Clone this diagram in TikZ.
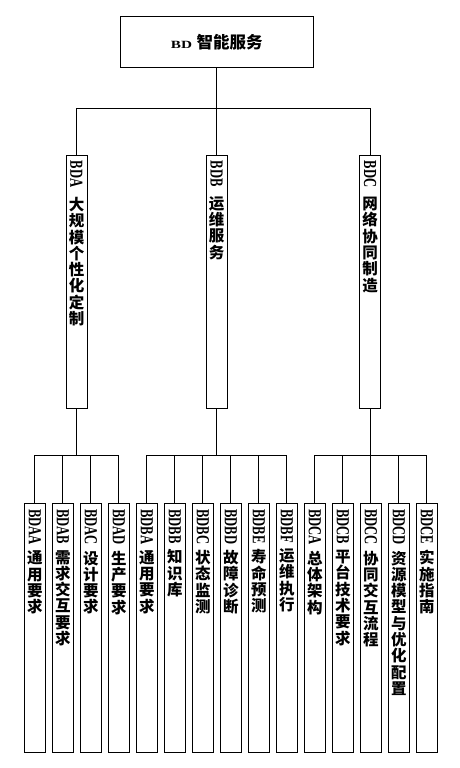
\documentclass[tikz,border=0pt]{standalone}
\usepackage{fontspec}
\setmainfont{Liberation Serif}
\newfontfamily\cjkfont{Noto Sans CJK SC}
\usepackage{graphicx}
\newcommand\latinrot[1]{\rotatebox{-90}{\scalebox{0.72}[1.05]{\fontsize{17.5}{17.5}\selectfont\bfseries #1}}}
\def\cjkloop#1{\ifx\relax#1\else\hbox to 16pt{\hss#1\hss}\expandafter\cjkloop\fi}
\newcommand\cjkstack[1]{\vbox{\cjkfont\bfseries\fontsize{15.5}{16.3}\selectfont\baselineskip=16.3pt\lineskiplimit=-20pt\cjkloop#1\relax}}
\begin{document}
\begin{tikzpicture}[x=1pt,y=-1pt,line width=1pt,
  box/.style={draw,inner sep=0pt,minimum width=21pt},
  lab/.style={inner sep=0pt,anchor=north}]
\useasboundingbox (0,0) rectangle (460,768);
% root
\node[draw,inner sep=0pt,minimum width=193pt,minimum height=51pt] (root) at (216.7,41.7)
  {\scalebox{1.45}[1.05]{\fontsize{10.5}{10.5}\selectfont\bfseries BD}\hspace{4.5pt}{\cjkfont\bfseries\fontsize{16.5}{16.5}\selectfont 智能服务}};
% level 1
\foreach \nm/\xx/\lt/\ch in {A/76.5/BDA/大规模个性化定制,B/216.7/BDB/运维服务,C/370/BDC/网络协同制造}{
  \node[box,minimum height=253.4pt] (\nm) at (\xx,282) {};
  \node[lab] (\nm-l) at ([yshift=-5.3pt]\nm.north) {\latinrot{\lt}};
  \node[lab] (\nm-c) at ([yshift=-9pt]\nm-l.south) {\expandafter\cjkstack\expandafter{\ch}};
}
\coordinate (bus) at (216.7,108.3);
\draw (root.south) -- (bus);
\draw (A.north) |- (bus) -| (C.north);
\draw (bus) -- (B.north);
% level 2
\foreach \nm/\idx/\lt/\ch in {AA/0/BDAA/通用要求,AB/1/BDAB/需求交互要求,AC/2/BDAC/设计要求,AD/3/BDAD/生产要求,
  BA/4/BDBA/通用要求,BB/5/BDBB/知识库,BC/6/BDBC/状态监测,BD/7/BDBD/故障诊断,BE/8/BDBE/寿命预测,BF/9/BDBF/运维执行,
  CA/10/BDCA/总体架构,CB/11/BDCB/平台技术要求,CC/12/BDCC/协同交互流程,CD/13/BDCD/资源模型与优化配置,CE/14/BDCE/实施指南}{
  \node[box,minimum height=249pt] (\nm) at ({34.8+28*\idx},628.2) {};
  \node[lab] (\nm-l) at ([yshift=-5.5pt]\nm.north) {\latinrot{\lt}};
  \node[lab] (\nm-c) at ([yshift=-5pt]\nm-l.south) {\expandafter\cjkstack\expandafter{\ch}};
}
\coordinate (busA) at (76.5,455.7);
\coordinate (busB) at (216.7,455.7);
\coordinate (busC) at (370,455.7);
\draw (A.south) -- (busA);
\draw (B.south) -- (busB);
\draw (C.south) -- (busC);
\draw (AA.north) |- (busA) -| (AD.north);
\draw (BA.north) |- (busB) -| (BF.north);
\draw (CA.north) |- (busC) -| (CE.north);
\foreach \nm/\bb in {AB/busA,AC/busA,BB/busB,BC/busB,BD/busB,BE/busB,CB/busC,CC/busC,CD/busC}
  \draw (\nm.north) -- (\nm.north |- \bb);
\end{tikzpicture}
\end{document}
